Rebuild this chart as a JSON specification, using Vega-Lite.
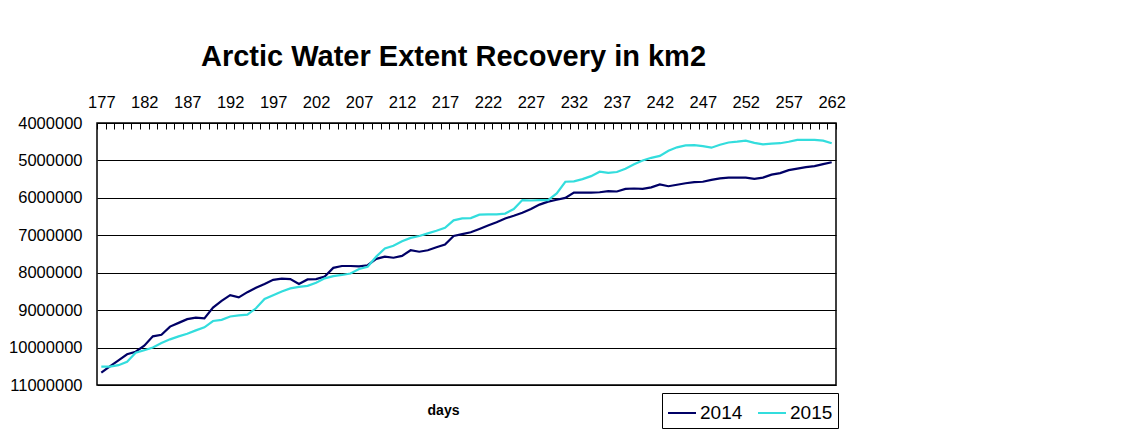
{
  "$schema": "https://vega.github.io/schema/vega-lite/v6.json",
  "autosize": "none",
  "width": 739,
  "height": 262,
  "padding": {"left": 97, "top": 123, "right": 298, "bottom": 51},
  "background": "white",
  "config": {
    "font": "Liberation Sans",
    "view": {"stroke": "black", "strokeWidth": 1.5}
  },
  "title": {
    "text": "Arctic Water Extent Recovery in km2",
    "fontSize": 29,
    "fontWeight": "bold",
    "color": "black",
    "font": "Liberation Sans",
    "anchor": "middle",
    "dx": -13,
    "offset": -1,
    "baseline": "alphabetic"
  },
  "data": {
    "values": [
      {"day": 177, "2014": 10670000, "2015": 10510000},
      {"day": 178, "2014": 10500000, "2015": 10510000},
      {"day": 179, "2014": 10340000, "2015": 10470000},
      {"day": 180, "2014": 10180000, "2015": 10380000},
      {"day": 181, "2014": 10110000, "2015": 10140000},
      {"day": 182, "2014": 9950000, "2015": 10070000},
      {"day": 183, "2014": 9700000, "2015": 10000000},
      {"day": 184, "2014": 9660000, "2015": 9880000},
      {"day": 185, "2014": 9440000, "2015": 9780000},
      {"day": 186, "2014": 9340000, "2015": 9700000},
      {"day": 187, "2014": 9240000, "2015": 9630000},
      {"day": 188, "2014": 9200000, "2015": 9540000},
      {"day": 189, "2014": 9220000, "2015": 9460000},
      {"day": 190, "2014": 8930000, "2015": 9290000},
      {"day": 191, "2014": 8750000, "2015": 9260000},
      {"day": 192, "2014": 8600000, "2015": 9170000},
      {"day": 193, "2014": 8660000, "2015": 9140000},
      {"day": 194, "2014": 8520000, "2015": 9120000},
      {"day": 195, "2014": 8400000, "2015": 8950000},
      {"day": 196, "2014": 8300000, "2015": 8700000},
      {"day": 197, "2014": 8190000, "2015": 8600000},
      {"day": 198, "2014": 8160000, "2015": 8500000},
      {"day": 199, "2014": 8170000, "2015": 8420000},
      {"day": 200, "2014": 8300000, "2015": 8380000},
      {"day": 201, "2014": 8180000, "2015": 8350000},
      {"day": 202, "2014": 8170000, "2015": 8270000},
      {"day": 203, "2014": 8100000, "2015": 8150000},
      {"day": 204, "2014": 7870000, "2015": 8090000},
      {"day": 205, "2014": 7820000, "2015": 8060000},
      {"day": 206, "2014": 7820000, "2015": 8020000},
      {"day": 207, "2014": 7830000, "2015": 7900000},
      {"day": 208, "2014": 7800000, "2015": 7840000},
      {"day": 209, "2014": 7630000, "2015": 7570000},
      {"day": 210, "2014": 7570000, "2015": 7350000},
      {"day": 211, "2014": 7600000, "2015": 7280000},
      {"day": 212, "2014": 7550000, "2015": 7160000},
      {"day": 213, "2014": 7400000, "2015": 7070000},
      {"day": 214, "2014": 7440000, "2015": 7020000},
      {"day": 215, "2014": 7400000, "2015": 6950000},
      {"day": 216, "2014": 7320000, "2015": 6880000},
      {"day": 217, "2014": 7250000, "2015": 6800000},
      {"day": 218, "2014": 7020000, "2015": 6600000},
      {"day": 219, "2014": 6970000, "2015": 6550000},
      {"day": 220, "2014": 6920000, "2015": 6540000},
      {"day": 221, "2014": 6830000, "2015": 6450000},
      {"day": 222, "2014": 6740000, "2015": 6440000},
      {"day": 223, "2014": 6650000, "2015": 6440000},
      {"day": 224, "2014": 6550000, "2015": 6420000},
      {"day": 225, "2014": 6480000, "2015": 6300000},
      {"day": 226, "2014": 6400000, "2015": 6060000},
      {"day": 227, "2014": 6300000, "2015": 6070000},
      {"day": 228, "2014": 6180000, "2015": 6060000},
      {"day": 229, "2014": 6100000, "2015": 6060000},
      {"day": 230, "2014": 6050000, "2015": 5880000},
      {"day": 231, "2014": 6000000, "2015": 5570000},
      {"day": 232, "2014": 5860000, "2015": 5560000},
      {"day": 233, "2014": 5860000, "2015": 5500000},
      {"day": 234, "2014": 5860000, "2015": 5420000},
      {"day": 235, "2014": 5850000, "2015": 5300000},
      {"day": 236, "2014": 5820000, "2015": 5330000},
      {"day": 237, "2014": 5830000, "2015": 5310000},
      {"day": 238, "2014": 5760000, "2015": 5220000},
      {"day": 239, "2014": 5750000, "2015": 5100000},
      {"day": 240, "2014": 5760000, "2015": 5000000},
      {"day": 241, "2014": 5720000, "2015": 4930000},
      {"day": 242, "2014": 5640000, "2015": 4880000},
      {"day": 243, "2014": 5690000, "2015": 4740000},
      {"day": 244, "2014": 5650000, "2015": 4650000},
      {"day": 245, "2014": 5610000, "2015": 4600000},
      {"day": 246, "2014": 5580000, "2015": 4590000},
      {"day": 247, "2014": 5570000, "2015": 4620000},
      {"day": 248, "2014": 5520000, "2015": 4660000},
      {"day": 249, "2014": 5480000, "2015": 4580000},
      {"day": 250, "2014": 5460000, "2015": 4520000},
      {"day": 251, "2014": 5460000, "2015": 4500000},
      {"day": 252, "2014": 5460000, "2015": 4470000},
      {"day": 253, "2014": 5490000, "2015": 4530000},
      {"day": 254, "2014": 5460000, "2015": 4570000},
      {"day": 255, "2014": 5380000, "2015": 4550000},
      {"day": 256, "2014": 5340000, "2015": 4540000},
      {"day": 257, "2014": 5260000, "2015": 4500000},
      {"day": 258, "2014": 5220000, "2015": 4450000},
      {"day": 259, "2014": 5180000, "2015": 4450000},
      {"day": 260, "2014": 5150000, "2015": 4450000},
      {"day": 261, "2014": 5100000, "2015": 4470000},
      {"day": 262, "2014": 5050000, "2015": 4540000}
    ]
  },
  "transform": [{"fold": ["2014", "2015"], "as": ["year", "extent"]}],
  "encoding": {
    "y": {
      "field": "extent",
      "type": "quantitative",
      "scale": {"domain": [4000000, 11000000], "reverse": true, "nice": false, "zero": false},
      "axis": {
        "title": null,
        "values": [4000000, 5000000, 6000000, 7000000, 8000000, 9000000, 10000000, 11000000],
        "format": "d",
        "grid": true,
        "gridColor": "black",
        "gridWidth": 1,
        "gridOpacity": 1,
        "ticks": false,
        "domain": false,
        "labelFontSize": 16.5,
        "labelColor": "black",
        "labelPadding": 15,
        "labelFlush": false,
        "labelOverlap": false
      }
    },
    "color": {
      "field": "year",
      "type": "nominal",
      "scale": {"domain": ["2014", "2015"], "range": ["#000066", "#33DDDD"]},
      "legend": {
        "title": null,
        "orient": "none",
        "legendX": 565,
        "legendY": 270,
        "direction": "horizontal",
        "symbolType": "stroke",
        "symbolSize": 784,
        "symbolStrokeWidth": 2,
        "labelFontSize": 19,
        "labelColor": "black",
        "labelOffset": 3,
        "columnPadding": 11,
        "padding": 5,
        "strokeColor": "black"
      }
    }
  },
  "layer": [
    {
      "mark": {"type": "line", "strokeWidth": 2.2},
      "encoding": {
        "x": {
          "field": "day",
          "type": "quantitative",
          "scale": {"domain": [176.5, 262.5], "nice": false, "zero": false},
          "axis": {
            "orient": "top",
            "title": null,
            "values": [176.5,177.5,178.5,179.5,180.5,181.5,182.5,183.5,184.5,185.5,186.5,187.5,188.5,189.5,190.5,191.5,192.5,193.5,194.5,195.5,196.5,197.5,198.5,199.5,200.5,201.5,202.5,203.5,204.5,205.5,206.5,207.5,208.5,209.5,210.5,211.5,212.5,213.5,214.5,215.5,216.5,217.5,218.5,219.5,220.5,221.5,222.5,223.5,224.5,225.5,226.5,227.5,228.5,229.5,230.5,231.5,232.5,233.5,234.5,235.5,236.5,237.5,238.5,239.5,240.5,241.5,242.5,243.5,244.5,245.5,246.5,247.5,248.5,249.5,250.5,251.5,252.5,253.5,254.5,255.5,256.5,257.5,258.5,259.5,260.5,261.5,262.5],
            "labelExpr": "(datum.value + 0.5 - 177) % 5 == 0 ? format(datum.value + 0.5, 'd') : ''",
            "labelOffset": 4.3,
            "labelFlush": false,
            "labelOverlap": false,
            "labelFontSize": 16.5,
            "labelColor": "black",
            "labelPadding": 19,
            "tickSize": -6,
            "tickColor": "black",
            "tickWidth": 1,
            "domain": false,
            "grid": false
          }
        }
      }
    },
    {
      "mark": {"type": "line", "opacity": 0},
      "encoding": {
        "x": {
          "field": "day",
          "type": "quantitative",
          "axis": {
            "orient": "bottom",
            "title": "days",
            "titleFontSize": 14,
            "titleFontWeight": "bold",
            "titleColor": "black",
            "titlePadding": 18,
            "titleX": 346,
            "labels": false,
            "ticks": false,
            "domain": false,
            "grid": false
          }
        }
      }
    }
  ],
  "resolve": {"axis": {"x": "independent"}}
}
